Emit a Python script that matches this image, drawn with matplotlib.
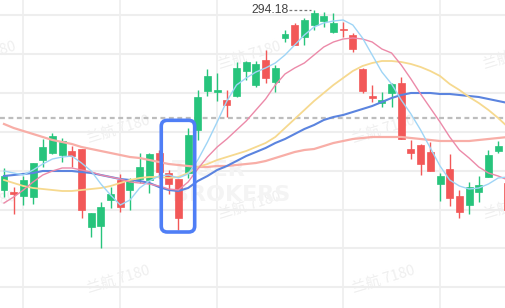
import matplotlib
matplotlib.use('Agg')
import matplotlib.pyplot as plt
from matplotlib.patches import FancyBboxPatch
import numpy as np

# ---- data ----
opens = [249.18, 248.68, 247.68, 247.43, 256.68, 258.43, 257.93, 258.93, 259.43, 239.93,
         240.18, 246.68, 251.68, 249.18, 251.93, 251.68, 258.43, 253.43, 251.93, 253.43,
         264.18, 273.93, 273.68, 271.68, 272.68, 278.93, 275.43, 281.68, 276.18, 287.18,
         290.43, 287.43, 290.43, 291.43, 288.68, 289.43, 287.93, 279.43, 272.68, 270.93,
         273.43, 275.93, 259.43, 260.43, 258.68, 250.68, 254.43, 247.68, 245.43, 248.68,
         252.43, 258.93, 250.93]
closes = [252.68, 248.18, 251.68, 255.93, 259.93, 262.68, 261.43, 257.68, 244.18, 243.43,
          244.93, 248.18, 244.93, 251.43, 254.93, 258.18, 253.68, 250.68, 242.18, 262.93,
          272.43, 277.68, 274.18, 270.43, 279.68, 281.18, 280.68, 277.18, 279.68, 288.18,
          285.43, 291.68, 293.43, 292.68, 290.93, 289.18, 284.43, 273.93, 272.18, 271.68,
          275.68, 261.93, 258.43, 255.68, 253.93, 252.68, 247.18, 243.68, 249.93, 250.43,
          257.93, 260.18, 244.18]
highs = [254.68, 249.93, 252.68, 255.93, 261.93, 263.43, 262.18, 260.18, 259.43, 243.43,
         246.18, 249.93, 253.18, 252.18, 258.43, 258.43, 259.18, 254.18, 251.93, 264.68,
         274.18, 279.43, 278.43, 274.18, 281.18, 281.43, 281.43, 284.18, 280.43, 289.18,
         290.93, 292.18, 294.18, 293.68, 293.43, 291.18, 288.43, 279.68, 275.43, 273.68,
         275.93, 277.43, 261.68, 260.68, 261.18, 253.43, 258.18, 249.18, 251.18, 252.68,
         259.18, 261.43, 256.68]
lows = [247.43, 243.18, 245.43, 245.68, 254.93, 258.18, 256.18, 254.93, 242.18, 237.43,
        234.68, 244.68, 243.68, 244.18, 250.93, 248.43, 252.18, 248.18, 239.18, 252.18,
        261.68, 272.68, 271.43, 267.43, 272.43, 276.68, 274.93, 275.93, 273.68, 286.18,
        285.43, 285.43, 289.18, 289.93, 288.43, 287.43, 283.68, 273.43, 271.18, 269.93,
        269.93, 261.93, 256.93, 252.93, 253.93, 246.43, 245.18, 242.18, 243.18, 246.18,
        252.43, 258.43, 242.18]

ma5 = [253.93, 253.43, 252.93, 254.18, 255.68, 256.93, 257.43, 257.68, 255.93, 253.93,
       250.68, 247.93, 245.43, 246.68, 249.68, 251.43, 252.68, 252.93, 252.18, 253.18,
       256.68, 261.18, 266.18, 271.43, 275.43, 277.18, 278.68, 279.68, 280.93, 282.93,
       285.43, 287.93, 289.93, 290.93, 291.43, 291.68, 290.43, 287.18, 282.93, 278.68,
       275.68, 271.68, 268.18, 264.18, 259.68, 255.18, 251.68, 250.18, 249.43, 249.68,
       250.68, 252.18, 252.43]
ma10 = [245.93, 247.43, 249.18, 251.18, 252.93, 253.93, 254.68, 254.68, 254.18, 253.68,
        252.93, 252.43, 251.93, 251.18, 250.93, 250.68, 250.18, 249.43, 249.18, 251.18,
        254.43, 257.43, 259.93, 261.93, 264.18, 266.43, 269.18, 271.93, 275.43, 278.18,
        279.68, 280.93, 282.93, 284.93, 286.18, 286.93, 287.18, 286.93, 286.18, 284.43,
        283.43, 280.43, 276.93, 273.18, 269.68, 266.18, 262.43, 259.18, 257.18, 254.93,
        253.43, 252.68, 251.68]
ma20 = [251.68, 250.93, 250.18, 249.68, 249.43, 249.18, 248.93, 248.93, 249.18, 249.43,
        249.68, 250.18, 250.93, 251.68, 252.18, 252.43, 252.43, 252.18, 252.43, 253.43,
        254.93, 255.68, 256.68, 257.43, 258.18, 258.93, 259.93, 260.93, 262.43, 264.68,
        266.93, 269.18, 271.43, 273.43, 275.43, 277.18, 278.93, 280.18, 280.93, 281.43,
        281.43, 281.18, 280.68, 279.93, 278.93, 277.68, 275.68, 274.18, 272.43, 270.93,
        269.18, 267.18, 264.93]
ma30 = [252.68, 252.93, 253.18, 253.43, 253.93, 253.93, 253.93, 253.93, 253.68, 253.43,
        252.93, 252.43, 251.93, 251.68, 251.43, 250.93, 249.93, 249.18, 248.93, 249.68,
        251.43, 252.68, 254.18, 255.18, 256.43, 257.68, 258.68, 259.68, 260.93, 261.93,
        263.18, 264.43, 265.43, 266.68, 267.43, 267.93, 268.68, 269.43, 270.18, 271.18,
        272.18, 272.93, 273.43, 273.43, 273.43, 273.18, 273.18, 272.93, 272.68, 272.43,
        271.93, 271.43, 270.93]
ma60 = [265.68, 264.68, 263.93, 263.18, 262.43, 261.68, 261.18, 260.68, 259.93, 259.43,
        258.93, 258.43, 257.93, 257.43, 257.18, 256.68, 256.18, 255.68, 255.43, 255.18,
        254.93, 254.93, 255.18, 255.18, 255.43, 255.68, 255.93, 256.43, 257.18, 257.93,
        258.68, 259.18, 259.43, 260.18, 260.93, 261.43, 261.93, 262.18, 262.43, 262.43,
        262.43, 262.43, 262.18, 261.93, 261.68, 261.43, 261.43, 261.43, 261.43, 261.68,
        261.93, 262.18, 262.43]

grid_prices = [224.85, 234.58, 244.3, 254.03, 263.75, 273.48, 283.2, 292.93]
grid_dates = [2, 12, 22, 35, 45]
last_price = 267.25
high_label = "294.18"
box_range = (16.23, 19.68, 238.68, 266.6)  # x0, x1, y0, y1 in data units
watermark = "兰航 7180"

# ---- figure ----
W, H = 506, 308
fig = plt.figure(figsize=(W / 100, H / 100), dpi=100)
ax = fig.add_axes([0, 0, 1, 1])
ax.set_xlim(-0.413, 51.81)
ax.set_ylim(219.68, 296.68)
ax.axis('off')

for gp in grid_prices:
    ax.axhline(gp, color='#eeeeee', lw=1.5, zorder=0)
for gd in grid_dates:
    ax.axvline(gd, color='#eeeeee', lw=1.2, zorder=0)

# watermarks (faint, tiled; edge ones are partly cut as in the reference)
wm_kw = dict(family=['Noto Sans CJK SC', 'DejaVu Sans'], fontsize=10.5,
             color='#efefef', rotation=17, ha='center', va='center',
             transform=ax.transAxes, zorder=0.5)
for (px, py) in [(-15, 55), (250, 55), (515, 55), (119, 129), (384, 129),
                 (-15, 205), (250, 205), (515, 205), (119, 279), (384, 279)]:
    ax.text(px / W, 1 - py / H, watermark, **wm_kw)
ax.text(172 / W, 1 - 170 / H, "TIGER", fontsize=16, fontweight='bold',
        color='#f4f4f4', ha='left', va='center', transform=ax.transAxes, zorder=0.5)
ax.text(172 / W, 1 - 195 / H, "BROKERS", fontsize=16, fontweight='bold',
        color='#f4f4f4', ha='left', va='center', transform=ax.transAxes, zorder=0.5)

# candles
x = np.arange(len(opens))
o = np.array(opens); c = np.array(closes)
hi = np.array(highs); lo = np.array(lows)
up = c >= o
green, red = '#27c47c', '#f25858'
cols = np.where(up, green, red)
ax.vlines(x, lo, hi, colors=cols, lw=1.0, zorder=2)
ax.bar(x, np.abs(c - o), bottom=np.minimum(o, c), width=0.72, color=cols,
       edgecolor=cols, linewidth=0.5, zorder=2.1)

# moving averages
ax.plot(x, ma60, color='#f8aea7', lw=1.6, zorder=3)
ax.plot(x, ma30, color='#5b84df', lw=1.5, zorder=3)
ax.plot(x, ma20, color='#f6d98f', lw=1.3, zorder=3)
ax.plot(x, ma10, color='#ec8aa9', lw=1.0, zorder=3)
ax.plot(x, ma5, color='#9fd5f6', lw=1.0, zorder=3)

# last price dashed line
ax.axhline(last_price, color='#bdbdbd', lw=1.6, ls=(0, (2.2, 1.6)), zorder=1)

# high label
imax = int(np.argmax(hi))
ax.plot([imax - 2.55, imax - 0.3], [hi[imax], hi[imax]], color='#777777',
        lw=0.9, ls=(0, (2.2, 1.8)), zorder=4)
ax.text(imax - 2.6, hi[imax], high_label, fontsize=8.8, family='Liberation Sans',
        color='#444444', ha='right', va='center', zorder=4)

# highlight box
x0, x1, y0, y1 = box_range
box = FancyBboxPatch((x0, y0), x1 - x0, y1 - y0,
                     boxstyle="round,pad=0,rounding_size=%f" % (6 / 9.69),
                     mutation_aspect=2.42, fill=False, edgecolor='#4f7ef6',
                     lw=2.6, zorder=5)
ax.add_patch(box)

fig.savefig('out.png', dpi=100)
